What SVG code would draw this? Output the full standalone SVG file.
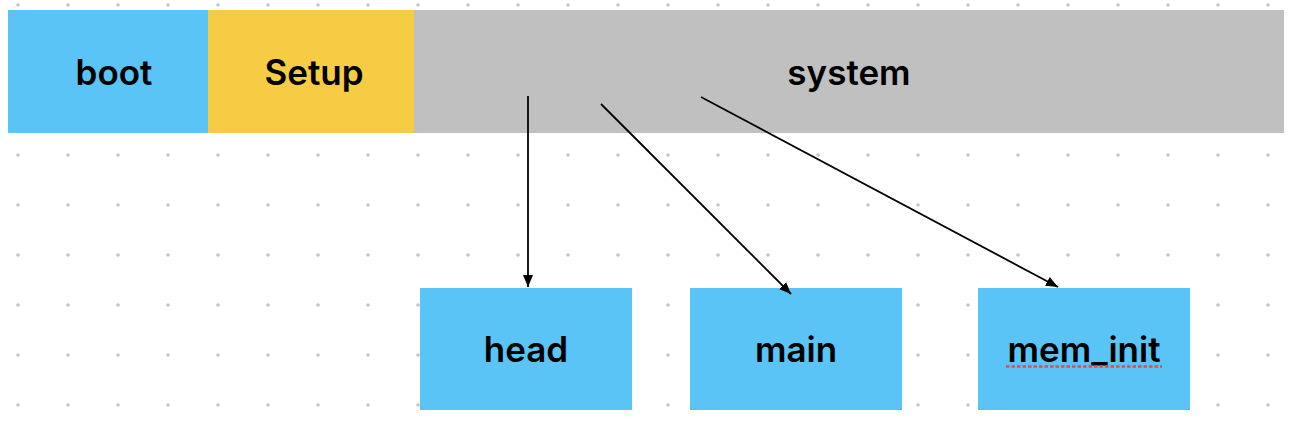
<svg xmlns="http://www.w3.org/2000/svg" width="1296" height="426" viewBox="0 0 1296 426">
  <style>
    .lbl { font-family: Inter, "Liberation Sans", Arial, sans-serif; font-weight: 600; font-size: 35px; fill: #000; text-anchor: middle; }
    .blue { fill: #5AC4F7; }
    .conn { stroke: #000; stroke-width: 1.8; fill: none; marker-end: url(#arrow); }
  </style>
  <defs>
    <pattern id="dots" x="0" y="0" width="50" height="50" patternUnits="userSpaceOnUse">
      <circle cx="18" cy="5" r="1.8" fill="#C4C4C4"/>
    </pattern>
    <marker id="arrow" viewBox="0 0 12 10" refX="12" refY="5" markerWidth="12" markerHeight="10" markerUnits="userSpaceOnUse" orient="auto">
      <path d="M0,0 L12,5 L0,10 Z" fill="#000"/>
    </marker>
  </defs>
  <rect x="0" y="0" width="1296" height="426" fill="#FFFFFF"/>
  <rect x="0" y="0" width="1296" height="426" fill="url(#dots)"/>

  <g id="boot">
    <rect class="blue" x="8" y="10" width="200" height="123"/>
    <text class="lbl" x="114" y="85">boot</text>
  </g>
  <g id="setup">
    <rect x="208" y="10" width="206" height="123" fill="#F6CC45"/>
    <text class="lbl" x="314" y="85">Setup</text>
  </g>
  <g id="system">
    <rect x="414" y="10" width="870" height="123" fill="#C0C0C0"/>
    <text class="lbl" x="849" y="85">system</text>
  </g>
  <g id="head">
    <rect class="blue" x="420" y="288" width="212" height="122"/>
    <text class="lbl" x="526" y="362">head</text>
  </g>
  <g id="main">
    <rect class="blue" x="690" y="288" width="212" height="122"/>
    <text class="lbl" x="796" y="362">main</text>
  </g>
  <g id="mem_init">
    <rect class="blue" x="978" y="288" width="212" height="122"/>
    <text class="lbl" x="1084" y="362">mem_init</text>
    <line x1="1006" y1="366.5" x2="1162" y2="366.5" stroke="#F0463C" stroke-width="2.5" stroke-dasharray="3.5,2"/>
  </g>

  <g id="connectors">
    <line class="conn" x1="528" y1="96" x2="528" y2="287"/>
    <line class="conn" x1="601" y1="104" x2="791" y2="294"/>
    <line class="conn" x1="701" y1="97" x2="1058" y2="287"/>
  </g>
</svg>
